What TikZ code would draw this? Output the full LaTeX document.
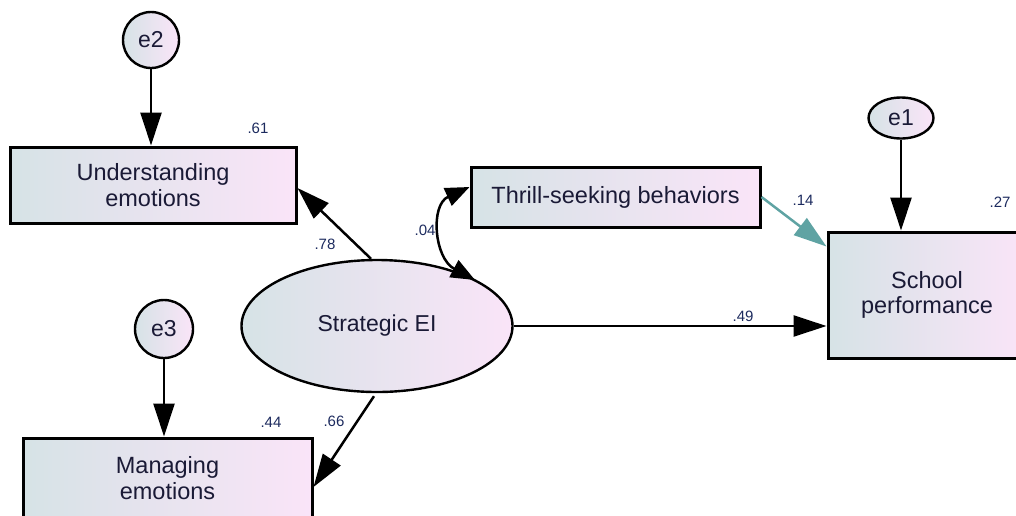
\documentclass[tikz,border=0pt]{standalone}
\usepackage{fontspec}
\setmainfont{Liberation Sans}
\usetikzlibrary{arrows.meta,calc,shapes.geometric}

\definecolor{fillL}{HTML}{D6E3E6}
\definecolor{fillR}{HTML}{FAE4F8}
\definecolor{ink}{HTML}{1A1A36}
\definecolor{coef}{HTML}{1C2A5E}
\definecolor{tealpath}{HTML}{5FA3A3}

\tikzset{
  obs/.style={draw=black, line width=3pt, rectangle, inner sep=0pt,
    left color=fillL, right color=fillR, text=ink, align=center,
    font=\fontsize{23.5}{25.5}\selectfont},
  latent/.style={draw=black, line width=2.4pt, ellipse, inner sep=0pt,
    left color=fillL, right color=fillR, text=ink, align=center,
    font=\fontsize{23}{25.5}\selectfont},
  errterm/.style={latent},
  path arrow/.style={draw=black, line width=2.5pt,
    -{Triangle[length=33pt,width=21pt]}},
  cov arrow/.style={draw=black, line width=2.5pt,
    {Triangle[length=24pt,width=19pt]}-{Triangle[length=24pt,width=19pt]}},
  coeflabel/.style={text=coef, font=\fontsize{15}{17}\selectfont, inner sep=0pt}
}

\begin{document}
\begin{tikzpicture}[x=1pt,y=-1pt]
  \useasboundingbox (0,0) rectangle (1016,515);

  % measured variables and factors
  \node[obs, minimum width=286pt, minimum height=76pt] (und) at (153,185)
    {Understanding\\emotions};
  \node[obs, minimum width=289pt, minimum height=60pt] (thr) at (615.5,197)
    {Thrill-seeking behaviors};
  \node[obs, minimum width=198pt, minimum height=126pt] (sch) at (927,295)
    {School\\performance};
  \node[obs, minimum width=289pt, minimum height=80pt] (man) at (167.5,478)
    {Managing\\emotions};
  \node[latent, minimum width=271pt, minimum height=132pt] (sei) at (377,326)
    {Strategic EI};

  % error terms
  \node[errterm, minimum width=56pt, minimum height=56pt] (e2) at (151,40) {e2};
  \node[errterm, minimum width=65pt, minimum height=41pt] (e1) at (901,118) {e1};
  \node[errterm, minimum width=58pt, minimum height=58pt] (e3) at (164,329) {e3};

  % error paths
  \draw[path arrow] (e2.south) -- (e2.south |- und.north);
  \draw[path arrow] (e1.south) -- (e1.south |- sch.north);
  \draw[path arrow] (e3.south) -- (e3.south |- man.north);

  % structural paths
  \draw[path arrow] ($(sei.north)+(-6,0)$) -- ($(und.east)+(0,3)$);
  \draw[path arrow] ($(sei.south)+(-3,3)$) -- ($(man.east)+(0,9)$);
  \draw[path arrow] (sei.east) -- (sei.east -| sch.west);
  \draw[path arrow, draw=tealpath] (thr.east) -- ($(sch.north west)+(0,16)$);

  % covariance between Strategic EI and thrill-seeking
  \coordinate (covlow) at (475,280);
  \draw[cov arrow] (covlow) .. controls (434,258) and (430,205) .. ($(thr.west)+(0,-10)$);

  % coefficients
  \node[coeflabel] (c61) at (258,128) {.61};
  \node[coeflabel] (c78) at (325,244) {.78};
  \node[coeflabel] (c04) at (425,230) {.04};
  \node[coeflabel] (c14) at (803,200) {.14};
  \node[coeflabel] (c27) at (1000,202) {.27};
  \node[coeflabel] (c49) at (743,316) {.49};
  \node[coeflabel] (c44) at (271,422) {.44};
  \node[coeflabel] (c66) at (334,421) {.66};
\end{tikzpicture}
\end{document}
